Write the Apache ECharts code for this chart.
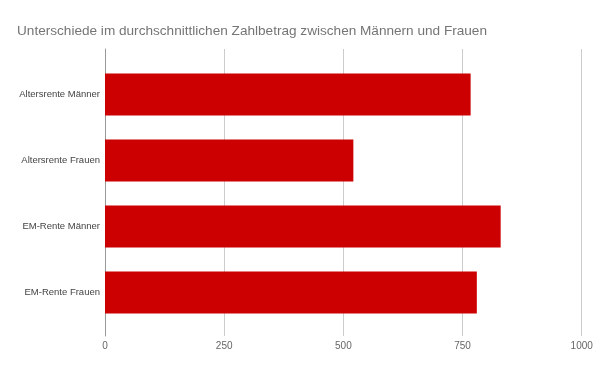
<!DOCTYPE html>
<html><head><meta charset="utf-8">
<script src="https://cdn.jsdelivr.net/npm/echarts@6/dist/echarts.min.js"></script>
<style>html,body{margin:0;padding:0;background:#fff}#c{width:600px;height:371px}</style>
</head><body><div id="c"></div>
<script>
const titleText = 'Unterschiede im durchschnittlichen Zahlbetrag zwischen Männern und Frauen';
const categories = ['Altersrente Männer', 'Altersrente Frauen', 'EM-Rente Männer', 'EM-Rente Frauen'];
const values = [767, 521, 830, 780];
const xTicks = [0, 250, 500, 750, 1000];

const FONT = 'Liberation Sans, Arial, sans-serif';
const chart = echarts.init(document.getElementById('c'), null, {renderer: 'canvas'});
chart.setOption({
  animation: false,
  backgroundColor: '#fff',
  title: {
    text: titleText, left: 12, top: 19,
    textStyle: {color: '#757575', fontSize: 13.6, fontWeight: 'normal', fontFamily: FONT}
  },
  grid: [
    {left: 105, right: 18.3, top: 61.5, bottom: 45.5, containLabel: false},
    {left: 105, right: 18.3, top: 49, bottom: 35, containLabel: false}
  ],
  xAxis: [{
    gridIndex: 0, type: 'value', min: xTicks[0], max: xTicks[xTicks.length - 1], interval: 250,
    show: false
  }, {
    gridIndex: 1, type: 'value', min: xTicks[0], max: xTicks[xTicks.length - 1], interval: 250, position: 'bottom',
    axisLine: {show: false},
    axisTick: {show: false},
    splitLine: {show: true, lineStyle: {color: '#cccccc'}},
    axisLabel: {color: '#666', fontSize: 10, margin: 5, fontFamily: FONT, formatter: v => String(v)}
  }],
  yAxis: [{
    gridIndex: 0, type: 'category', data: categories, inverse: true,
    axisLine: {show: false},
    axisTick: {show: false},
    axisLabel: {color: '#444', fontSize: 9.5, margin: 5, fontFamily: FONT}
  }, {
    gridIndex: 1, type: 'value', min: 0, max: 1,
    axisLine: {show: true, lineStyle: {color: '#999'}},
    axisTick: {show: false}, axisLabel: {show: false}, splitLine: {show: false}
  }],
  series: [{
    type: 'bar', xAxisIndex: 0, yAxisIndex: 0, data: values, barCategoryGap: '36%',
    itemStyle: {color: '#cc0000'}, z: 3
  }]
});
</script></body></html>
